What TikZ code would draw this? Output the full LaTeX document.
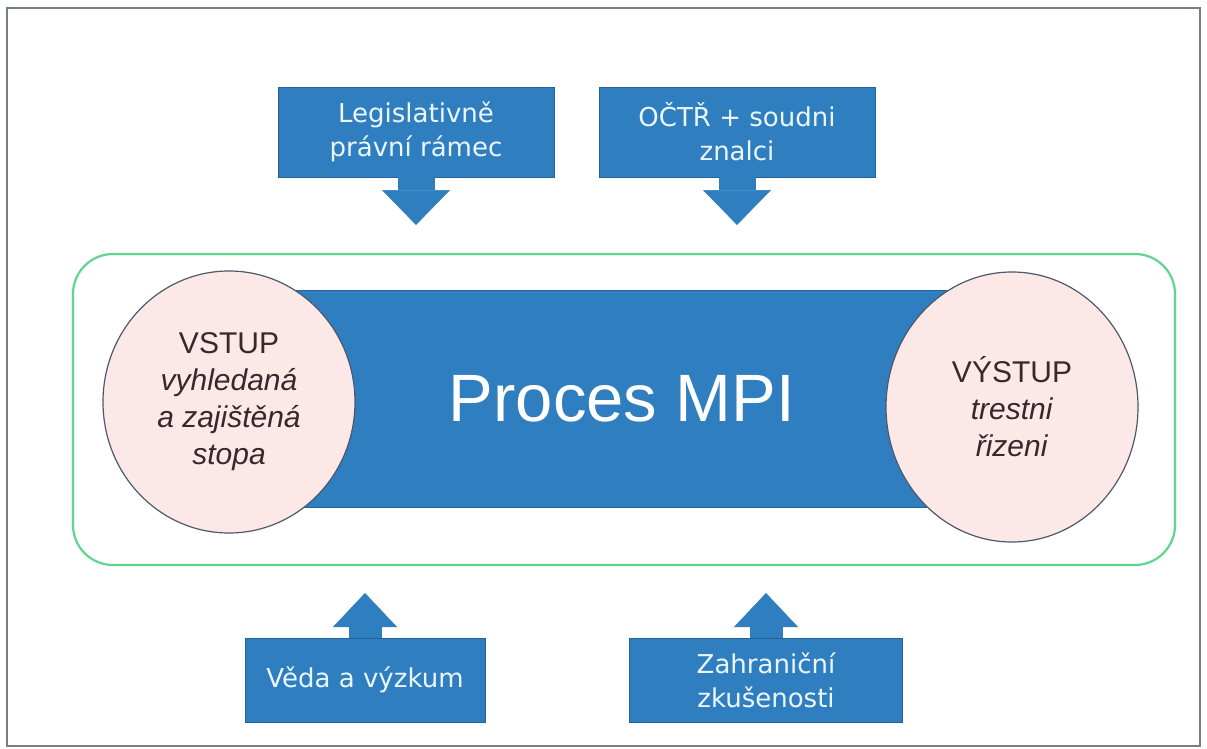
\documentclass[tikz,border=0pt]{standalone}
\usepackage{fontspec}
\setmainfont{Liberation Sans}
\newfontfamily\boxfont{DejaVu Sans}
\usepackage{tikz}
\usetikzlibrary{positioning, shapes.geometric, arrows.meta, calc}
\definecolor{mpiblue}{RGB}{47,126,192}
\definecolor{mpiedge}{RGB}{38,98,150}
\definecolor{mpiwhite}{RGB}{236,246,255}
\definecolor{circfill}{RGB}{252,233,231}
\definecolor{circedge}{RGB}{78,88,108}
\definecolor{circtext}{RGB}{55,40,45}
\definecolor{ringgreen}{RGB}{95,214,142}
\definecolor{framegray}{RGB}{118,126,136}

\begin{document}
\begin{tikzpicture}[x=1pt, y=-1pt,
  inbox/.style={draw=mpiedge, line width=0.8, fill=mpiblue, text=mpiwhite, align=center,
    inner sep=0, minimum height=90, font=\boxfont\fontsize{26}{34}\selectfont},
  downarrow/.style={mpiblue, line width=37, -{Triangle[width=68pt, length=35pt, line width=0.5pt]}},
  uparrow/.style={mpiblue, line width=33, -{Triangle[width=64pt, length=34pt, line width=0.5pt]}},
  circ/.style={ellipse, draw=circedge, line width=1.2, fill=circfill, text=circtext, align=center,
    inner sep=0, minimum width=252, font=\fontsize{30}{37}\selectfont}]

\useasboundingbox (0,0) rectangle (1207,749);
\fill[white] (0,0) rectangle (1207,749);
\draw[framegray, line width=2.5] (7,8) rectangle (1200,746);

% Outer ring and the process bar
\draw[ringgreen, line width=2.2, rounded corners=40] (73,254) rectangle (1175,565);
\node[draw=mpiedge, line width=0.8, fill=mpiblue, text=white, inner sep=0,
  minimum width=765, minimum height=217, font=\fontsize{67}{80}\selectfont] (proc) at (622,399) {Proces MPI};

% Input and output
\node[circ, minimum height=262] (vstup) at (229,402)
  {VSTUP\\ \textit{vyhledaná}\\ \textit{a zajištěná}\\ \textit{stopa}};
\node[circ, minimum height=270] (vystup) at (1012,407)
  {VÝSTUP\\ \textit{trestni}\\ \textit{řizeni}};

% Influences from above
\node[inbox, minimum width=276] (legis) at (416,132) {Legislativně\\ právní rámec};
\node[inbox, minimum width=276] (octr) at (737,132) {OČTŘ + soudni\\ znalci};
\coordinate (legistip) at (416,225);
\coordinate (octrtip) at (737,225);
\draw[downarrow] (legis) -- (legistip);
\draw[downarrow] (octr) -- (octrtip);

% Influences from below
\node[inbox, minimum width=240, minimum height=84] (veda) at (365,680) {Věda a výzkum};
\node[inbox, minimum width=273, minimum height=84] (zahr) at (766,680) {Zahraniční\\ zkušenosti};
\coordinate (vedatip) at (365,593);
\coordinate (zahrtip) at (766,593);
\draw[uparrow] (veda) -- (vedatip);
\draw[uparrow] (zahr) -- (zahrtip);
\end{tikzpicture}
\end{document}
